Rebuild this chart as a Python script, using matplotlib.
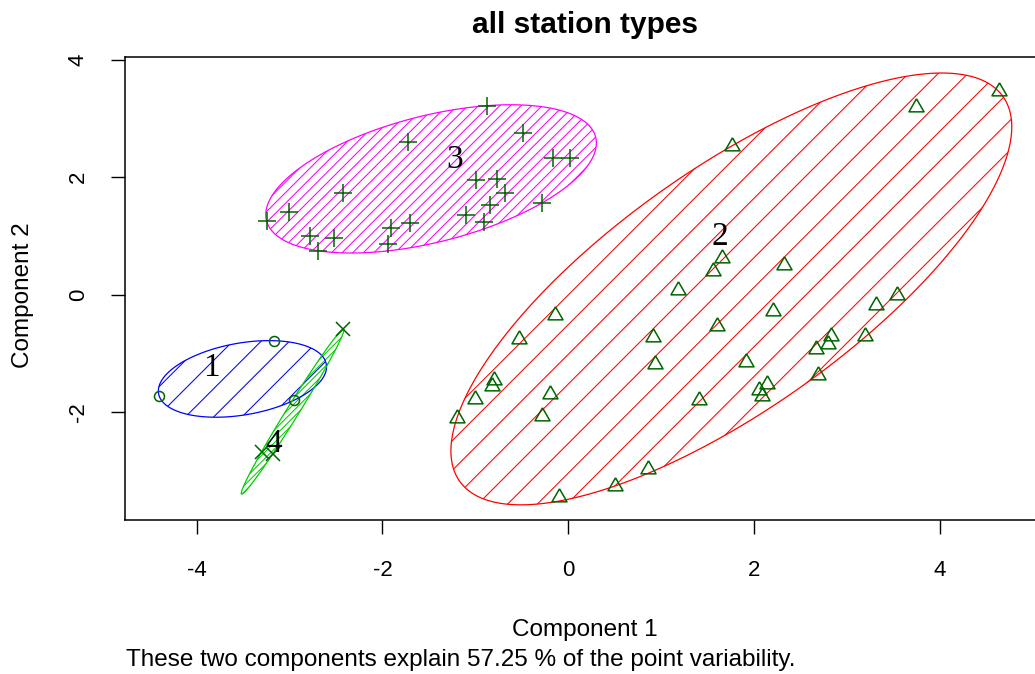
import numpy as np
import matplotlib
matplotlib.use("Agg")
import matplotlib.pyplot as plt
from matplotlib.patches import Polygon

# cluster 1 (circles)
c1_x = [-3.170, -4.402, -2.947]
c1_y = [-0.786, -1.728, -1.796]

# cluster 2 (triangles)
c2_x = [4.631, 3.745, 1.759, 1.654, 1.554, 2.322, 1.183, 3.537, 3.314, 2.207,
        1.603, 0.914, 3.188, 2.825, 2.800, 2.667, 0.932, 1.913, 2.685, 2.142,
        2.056, 2.082, 1.406, -0.145, -0.530, -0.803, -0.817, -1.008, -0.199,
        -0.278, -1.198, 0.860, 0.501, -0.099]
c2_y = [3.459, 3.191, 2.528, 0.630, 0.395, 0.507, 0.071, -0.003, -0.184, -0.286,
        -0.536, -0.723, -0.706, -0.706, -0.837, -0.933, -1.178, -1.149, -1.365,
        -1.518, -1.631, -1.728, -1.801, -0.344, -0.763, -1.460, -1.557, -1.774,
        -1.699, -2.068, -2.102, -2.975, -3.260, -3.447]

# cluster 3 (plus)
c3_x = [-0.875, -0.487, -1.726, -0.164, 0.016, -0.997, -0.767, -0.677, -2.419,
        -3.001, -0.278, -0.838, -1.097, -0.907, -3.246, -1.708, -1.905, -2.775,
        -2.517, -1.942, -2.696]
c3_y = [3.214, 2.754, 2.601, 2.318, 2.318, 1.949, 1.961, 1.723, 1.723, 1.399,
        1.563, 1.523, 1.353, 1.229, 1.251, 1.222, 1.127, 0.996, 0.957, 0.860,
        0.746]

# cluster 4 (x)
c4_x = [-2.419, -3.300, -3.181]
c4_y = [-0.592, -2.676, -2.715]

cluster_names = ["1", "2", "3", "4"]
label_x = [-3.842, 1.633, -1.223, -3.173]
label_y = [-1.251, 0.979, 2.289, -2.545]

x_ticks = [-4, -2, 0, 2, 4]
y_ticks = [-2, 0, 2, 4]


def mvee(pts, tol=1e-9, max_iter=20000):
    # minimum volume enclosing ellipse (Khachiyan)
    n, d = pts.shape
    q = np.vstack([pts.T, np.ones(n)])
    u = np.ones(n) / n
    for _ in range(max_iter):
        x = q @ np.diag(u) @ q.T
        m = np.einsum("ij,ji->i", q.T @ np.linalg.inv(x), q)
        j = np.argmax(m)
        step = (m[j] - d - 1) / ((d + 1) * (m[j] - 1))
        nu = (1 - step) * u
        nu[j] += step
        if np.linalg.norm(nu - u) < tol:
            u = nu
            break
        u = nu
    c = pts.T @ u
    a = np.linalg.inv(pts.T @ np.diag(u) @ pts - np.outer(c, c)) / d
    return c, a


def ellipse_outline(c, a, n=400):
    w, v = np.linalg.eigh(a)
    t = np.linspace(0, 2 * np.pi, n)
    circ = np.vstack([np.cos(t), np.sin(t)])
    return (c[:, None] + v @ np.diag(1 / np.sqrt(w)) @ circ).T


plt.rcParams["font.family"] = ["Liberation Sans", "DejaVu Sans"]
fig = plt.figure(figsize=(10.35, 6.74), dpi=100)
W, H = 1035, 674
ax = fig.add_axes([125 / W, 1 - 520 / H, (1045 - 125) / W, (520 - 57) / H])
ax.set_xlim(-4.77, 5.13)
ax.set_ylim(-3.838, 4.043)

tri = [(0, 1.555), (1.347, -0.778), (-1.347, -0.778), (0, 1.555)]
clusters = [
    (c1_x, c1_y, "#0000FF", "o", 7.2, 20),
    (c2_x, c2_y, "#FF0000", tri, 12.5, 21),
    (c3_x, c3_y, "#FF00FF", "+", 12.5, 7.5),
    (c4_x, c4_y, "#00CD00", "x", 10.5, 4.5),
]

for xs, ys, col, mk, ms, spacing in clusters:
    pts = np.column_stack([xs, ys])
    c, a = mvee(pts)
    outline = ellipse_outline(c, a)
    patch = Polygon(outline, closed=True, fill=False, edgecolor=col, lw=0.9, zorder=2)
    ax.add_patch(patch)
    # shading lines at 45 degrees on screen, clipped to the ellipse
    disp = ax.transData.transform(outline)
    x0, y0 = disp.min(0)
    x1, y1 = disp.max(0)
    step = spacing * np.sqrt(2)
    for off in np.arange(y0 - x1, y1 - x0, step):
        seg = np.array([[x0 - 5, x0 - 5 + off], [x1 + 5, x1 + 5 + off]])
        d = ax.transData.inverted().transform(seg)
        ln, = ax.plot(d[:, 0], d[:, 1], color=col, lw=0.75, zorder=1)
        ln.set_clip_path(patch)

for xs, ys, col, mk, ms, spacing in clusters:
    ax.plot(xs, ys, linestyle="none", marker=mk, ms=ms, mfc="none",
            mec="#006400", mew=1.1, zorder=3)

for name, lx, ly in zip(cluster_names, label_x, label_y):
    ax.text(lx, ly, name, ha="center", va="center", fontsize=24,
            family=["Liberation Serif", "DejaVu Serif"], zorder=4)

ax.set_xticks(x_ticks)
ax.set_yticks(y_ticks)
ax.set_xticklabels([str(v) for v in x_ticks], fontsize=16)
ax.set_yticklabels([str(v) for v in y_ticks], fontsize=16, rotation=90, va="center")
ax.tick_params(axis="x", direction="out", length=10, width=1.0, pad=19)
ax.tick_params(axis="y", direction="out", length=10, width=1.0, pad=16)
for sp in ax.spines.values():
    sp.set_linewidth(1.1)

fig.text(585 / W, 1 - 25 / H, "all station types", ha="center", va="center",
         fontsize=21.5, fontweight="bold")
fig.text(585 / W, 1 - 630 / H, "Component 1", ha="center", va="center", fontsize=17.5)
fig.text(23 / W, 1 - 295 / H, "Component 2", ha="center", va="center",
         fontsize=17.5, rotation=90)
fig.text(126 / W, 1 - 660 / H,
         "These two components explain 57.25 % of the point variability.",
         ha="left", va="center", fontsize=17.5)

fig.savefig("out.png", dpi=100)
